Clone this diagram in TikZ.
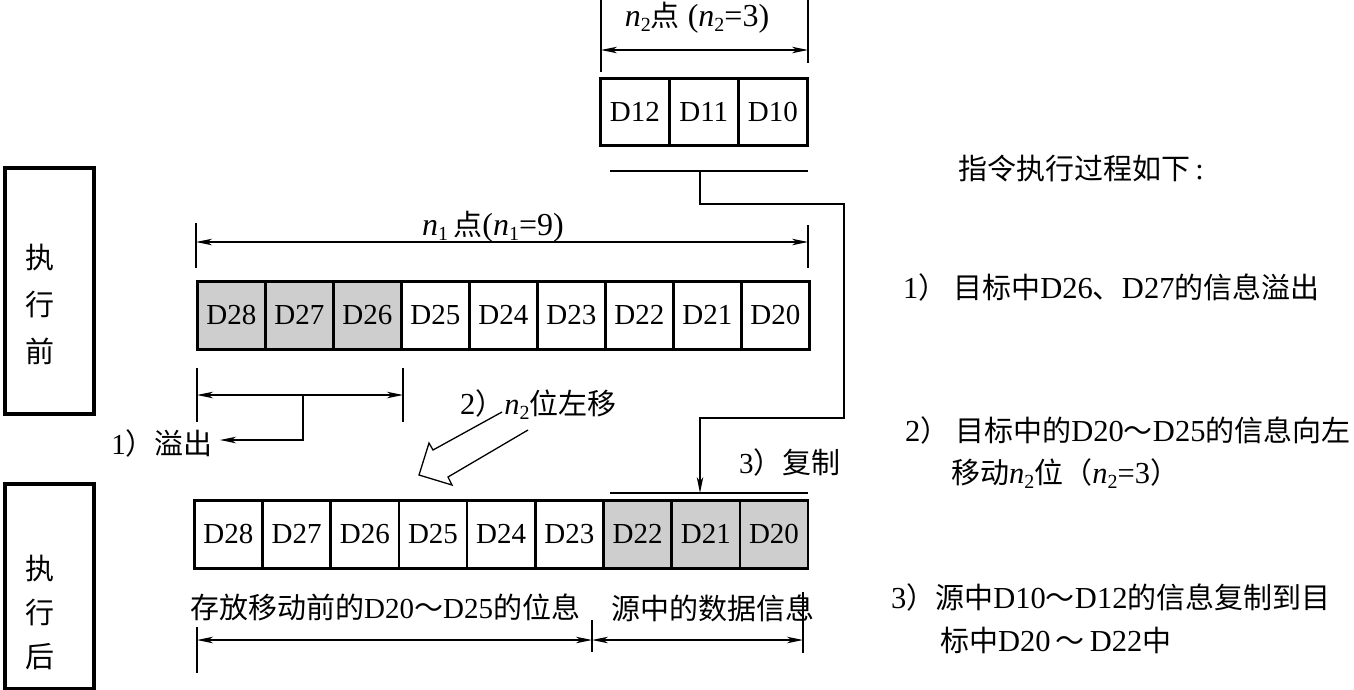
\documentclass[tikz,border=0pt]{standalone}
\usepackage{fontspec}
\setmainfont{Liberation Serif}
\newfontfamily\cjk{Noto Sans CJK SC}
\usetikzlibrary{arrows.meta}
\definecolor{cellgray}{RGB}{206,206,206}
\newcommand\zh[1]{{\cjk\fontsize{29}{34}\selectfont #1}}
\newcommand\nsub[1]{\textit{n}\raisebox{-0.35ex}{\fontsize{20}{20}\selectfont #1}}
\newcommand\lat{\fontsize{29}{34}\selectfont}
\newcommand\latb{\fontsize{30.5}{34}\selectfont}
\newcommand\latc{\fontsize{32}{36}\selectfont}
\begin{document}
\begin{tikzpicture}[x=1pt,y=-1pt,
  regcell/.style={draw, line width=2.6pt, inner sep=0pt, anchor=north west, font=\lat},
  thinline/.style={line width=1.2pt},
  dimline/.style={thinline, {Stealth[length=16pt,width=6.5pt,inset=4.5pt]}-{Stealth[length=16pt,width=6.5pt,inset=4.5pt]}},
  onearrow/.style={thinline, -{Stealth[length=16pt,width=6.5pt,inset=4.5pt]}},
  sidebox/.style={draw, line width=3.5pt, anchor=north west, inner sep=0pt},
  sidetext/.style={align=center, inner sep=0pt},
  txt/.style={anchor=west, inner sep=0pt, font=\lat},
  rtxt/.style={anchor=west, inner sep=0pt, font=\latb},
  ntxt/.style={anchor=center, inner sep=0pt, font=\latc},
]
\useasboundingbox (0,0) rectangle (1354,689);

% side boxes
\node[sidebox, minimum width=89pt, minimum height=246pt] (before) at (3,166) {};
\node[sidetext, font=\cjk\fontsize{29}{47}\selectfont] (beforetxt) at (40,304) {执\\行\\前};
\node[sidebox, minimum width=89pt, minimum height=205pt] (after) at (3,482) {};
\node[sidetext, font=\cjk\fontsize{29}{44}\selectfont] (aftertxt) at (40,612) {执\\行\\后};

% source register
\foreach \lab [count=\i] in {D12,D11,D10}
  \node[regcell, fill=white, minimum width=69pt, minimum height=67pt] (t\i) at ({599+69*(\i-1)},77) {\lab};

% middle register
\foreach \lab/\fc [count=\i] in {D28/cellgray,D27/cellgray,D26/cellgray,D25/white,D24/white,D23/white,D22/white,D21/white,D20/white}
  \node[regcell, fill=\fc, minimum width=68pt, minimum height=68pt] (m\i) at ({196+68*(\i-1)},280) {\lab};

% bottom register
\foreach \lab/\fc [count=\i] in {D28/white,D27/white,D26/white,D25/white,D24/white,D23/white,D22/cellgray,D21/cellgray,D20/cellgray}
  \node[regcell, fill=\fc, minimum width=68.2pt, minimum height=68pt] (b\i) at ({193+68.2*(\i-1)},499) {\lab};

% n2 dimension
\coordinate (n2l) at (601,50); \coordinate (n2r) at (808,50);
\draw[thinline] (601,0) -- (601,72);
\draw[thinline] (808,0) -- (808,63);
\draw[dimline] (n2l) -- (n2r);
\node[ntxt] (n2lab) at (697,18) {\nsub{2}\zh{点} (\nsub{2}=3)};

% copy connector
\coordinate (barL) at (610,171); \coordinate (barR) at (808,171);
\coordinate (barM) at (700,171);
\coordinate (c1) at (700,204); \coordinate (c2) at (844,204);
\coordinate (c3) at (844,418); \coordinate (c4) at (700,418);
\coordinate (tgt) at (700,493);
\coordinate (tbarL) at (610,493); \coordinate (tbarR) at (808,493);
\draw[thinline] (barL) -- (barR);
\draw[onearrow] (barM) -- (c1) -- (c2) -- (c3) -- (c4) -- (tgt);
\draw[thinline] (tbarL) -- (tbarR);
\node[txt] (copylab) at (739,462) {3\zh{）复制}};

% n1 dimension
\coordinate (n1l) at (196,242); \coordinate (n1r) at (808,242);
\draw[thinline] (196,223) -- (196,268);
\draw[thinline] (808,225) -- (808,268);
\draw[dimline] (n1l) -- (n1r);
\node[ntxt] (n1lab) at (493,227) {\nsub{1}\,\zh{点}(\nsub{1}=9)};

% overflow dimension
\coordinate (ofl) at (197,395); \coordinate (ofr) at (403,395);
\coordinate (ofm) at (303,395); \coordinate (ofd) at (303,440);
\coordinate (oft) at (220,440);
\draw[thinline] (197,368) -- (197,422);
\draw[thinline] (403,368) -- (403,422);
\draw[dimline] (ofl) -- (ofr);
\draw[onearrow] (ofm) -- (ofd) -- (oft);
\node[txt, anchor=center] (oflab) at (162,443) {1\zh{）溢出}};

% hollow shift arrow
\draw[line width=1.3pt, line join=miter] (502,412) -- (433,450) -- (429,443) -- (419,475) -- (452,485) -- (448,477) -- (528,430);
\node[txt, font=\latb] (shiftlab) at (460,405) {2\zh{）}\nsub{2}\zh{位左移}};

% bottom dimensions
\coordinate (bl) at (197,640); \coordinate (bm) at (592,640); \coordinate (br) at (803,640);
\draw[thinline] (197,627) -- (197,673);
\draw[thinline] (592,620) -- (592,652);
\draw[thinline] (803,592) -- (803,653);
\draw[dimline] (bl) -- (bm);
\draw[dimline] (bm) -- (br);
\node[txt] (keeplab) at (190,607) {\zh{存放移动前的}D20\zh{～}D25\zh{的位息}};
\node[txt] (srclab) at (611,608) {\zh{源中的数据信息}};

% right explanation
\node[rtxt] (title) at (958,168) {\zh{指令执行过程如下}\,:};
\node[rtxt] (s1) at (903,287) {1\zh{）}\hspace{6pt}\zh{目标中}D26\zh{、}D27\zh{的信息溢出}};
\node[rtxt] (s2a) at (905,430) {2\zh{）}\hspace{6pt}\zh{目标中的}D20\zh{～}D25\zh{的信息向左}};
\node[rtxt] (s2b) at (951,474) {\zh{移动}\nsub{2}\zh{位（}\nsub{2}=3\zh{）}};
\node[rtxt] (s3a) at (891,597) {3\zh{）源中}D10\zh{～}D12\zh{的信息复制到目}};
\node[rtxt] (s3b) at (940,640) {\zh{标中}D20\,\zh{～}\,D22\zh{中}};
\end{tikzpicture}
\end{document}
